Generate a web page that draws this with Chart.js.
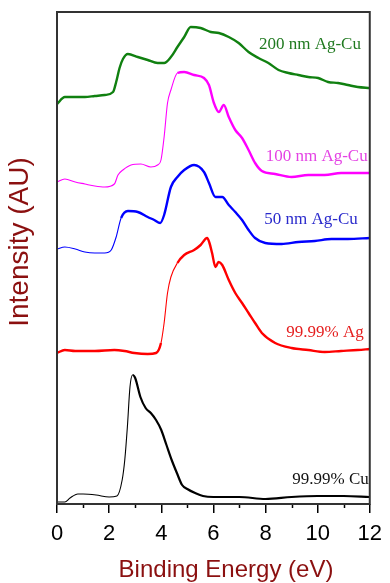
<!DOCTYPE html>
<html>
<head>
<meta charset="utf-8">
<script src="https://cdn.jsdelivr.net/npm/chart.js@4"></script>
<style>
  html, body { margin: 0; padding: 0; background: #fff; }
  #wrap { width: 390px; height: 583px; }
</style>
</head>
<body>
<div id="wrap"><canvas id="vbChart" width="390" height="583"></canvas></div>
<script>
// valence band spectra, intensities (arbitrary units, stacked)
const xTicks = [0, 2, 4, 6, 8, 10, 12];

const cuE = [0, 0.3, 0.5, 0.8, 1.0, 1.5, 2.0, 2.3, 2.5, 2.6, 2.7, 2.8, 2.9, 3.0, 3.2, 3.4, 3.6, 3.8, 4.0, 4.2, 4.4, 4.6, 4.8, 5.0, 5.3, 5.6, 6.0, 7, 8, 9, 10, 11, 12];
const cuI = [2, 2, 6, 10, 10, 9, 7, 8, 24, 44, 77, 117, 129, 126, 107, 96, 91, 84, 74, 59, 44, 31, 19, 15, 11, 8, 7, 7, 5, 7, 8, 8, 7];

const agE = [0, 0.3, 0.7, 1.45, 2.2, 2.59, 2.97, 3.48, 3.8, 3.99, 4.11, 4.24, 4.37, 4.62, 4.88, 5.26, 5.51, 5.76, 5.85, 5.95, 6.08, 6.2, 6.34, 6.59, 6.84, 7.1, 7.35, 7.6, 7.86, 8.37, 9.0, 9.64, 10.27, 10.9, 11.54, 12];
const agI = [151, 154, 153, 153, 154, 153, 151, 150, 151, 161, 181, 211, 227, 241, 249, 254, 259, 266, 261, 251, 237, 242, 239, 224, 211, 201, 191, 181, 171, 161, 156, 154, 152, 153, 154, 155];

const nm50E = [0, 0.3, 0.7, 1.07, 1.45, 1.83, 2.08, 2.27, 2.46, 2.72, 3.1, 3.48, 3.73, 3.96, 4.11, 4.37, 4.62, 4.88, 5.26, 5.64, 5.83, 6.08, 6.34, 6.59, 6.84, 7.1, 7.35, 7.6, 7.99, 8.62, 9.26, 9.89, 10.53, 11.16, 12];
const nm50I = [255, 257, 255, 252, 251, 251, 254, 267, 286, 293, 292, 287, 284, 281, 289, 317, 327, 334, 339, 332, 321, 307, 307, 299, 292, 284, 274, 266, 261, 260, 262, 263, 265, 265, 266];

const nm100E = [0, 0.3, 0.7, 1.07, 1.45, 1.83, 2.2, 2.34, 2.53, 2.84, 3.22, 3.6, 3.86, 3.99, 4.11, 4.24, 4.37, 4.62, 4.88, 5.26, 5.64, 5.83, 6.02, 6.21, 6.4, 6.59, 6.84, 7.1, 7.35, 7.6, 7.86, 8.37, 9.0, 9.64, 10.27, 10.9, 11.54, 12];
const nm100I = [322, 325, 322, 320, 318, 317, 320, 329, 334, 339, 340, 337, 339, 344, 367, 401, 414, 431, 432, 429, 426, 419, 401, 392, 399, 387, 374, 366, 354, 341, 333, 330, 327, 329, 329, 331, 331, 331];

const nm200E = [0, 0.3, 0.7, 1.07, 1.45, 1.83, 2.15, 2.27, 2.4, 2.53, 2.72, 3.1, 3.48, 3.86, 4.11, 4.37, 4.62, 4.88, 5.13, 5.51, 5.9, 6.21, 6.59, 6.97, 7.35, 7.73, 8.11, 8.5, 8.88, 9.26, 9.64, 10.02, 10.4, 10.78, 11.16, 11.54, 12];
const nm200I = [400, 407, 407, 407, 408, 409, 412, 422, 436, 445, 450, 447, 444, 441, 441, 447, 457, 467, 477, 476, 472, 471, 467, 461, 452, 446, 441, 434, 431, 429, 427, 426, 422, 421, 419, 417, 416];

const seriesNames = ['99.99% Cu', '99.99% Ag', '50 nm Ag-Cu', '100 nm Ag-Cu', '200 nm Ag-Cu'];

const titleRed = '#8b1010';

function pts(es, is) {
    return es.map((e, i) => ({ x: e, y: is[i] }));
}

// the measured traces are noisy: draw the noisy stretches with a wider pen
function fuzz(from, to, thick) {
    return {
        borderWidth: (c) => {
            const e = c.p0.parsed.x;
            return (e >= from && e < to) ? 1.1 : thick;
        }
    };
}

// where each curve's name sits: right edge (eV) and middle (intensity)
const tagSpots = [
    { e: 11.96, i: 24, color: '#111111' },
    { e: 11.77, i: 171, color: '#e52020' },
    { e: 11.54, i: 284, color: '#2a2acc' },
    { e: 11.92, i: 347, color: '#e443e4' },
    { e: 11.66, i: 459, color: '#207a20' }
];

const decor = {
    id: 'decor',
    afterDraw(chart) {
        const { ctx, chartArea: a, scales } = chart;
        const sx = scales.x, sy = scales.y;
        ctx.save();

        // minor ticks on odd values
        ctx.strokeStyle = '#000';
        ctx.lineWidth = 1.5;
        for (let v = 1; v < 12; v += 2) {
            const px = Math.round(sx.getPixelForValue(v)) + 0.5;
            ctx.beginPath();
            ctx.moveTo(px, a.bottom);
            ctx.lineTo(px, a.bottom + 4);
            ctx.stroke();
        }

        // frame
        ctx.strokeStyle = '#333';
        ctx.lineWidth = 2;
        ctx.strokeRect(a.left, a.top, a.right - a.left, a.bottom - a.top);

        // curve names
        ctx.font = '17px "Liberation Serif", serif';
        ctx.textAlign = 'right';
        ctx.textBaseline = 'middle';
        tagSpots.forEach((t, k) => {
            ctx.fillStyle = t.color;
            ctx.fillText(seriesNames[k], sx.getPixelForValue(t.e), sy.getPixelForValue(t.i));
        });

        // axis titles
        ctx.fillStyle = titleRed;
        ctx.textAlign = 'center';
        ctx.font = '24px "Liberation Sans", Arial, sans-serif';
        ctx.fillText('Binding Energy (eV)', 226, 570);
        ctx.translate(20, 242);
        ctx.rotate(-Math.PI / 2);
        ctx.font = '28px "Liberation Sans", Arial, sans-serif';
        ctx.fillText('Intensity (AU)', 0, 0);
        ctx.restore();
    }
};

const ctx = document.getElementById('vbChart').getContext('2d');
new Chart(ctx, {
    type: 'line',
    data: {
        datasets: [
            { label: seriesNames[0], data: pts(cuE, cuI), borderColor: '#000000', segment: fuzz(0, 2.9, 2.2) },
            { label: seriesNames[1], data: pts(agE, agI), borderColor: '#ff0000', segment: fuzz(3.9, 4.5, 2.4) },
            { label: seriesNames[2], data: pts(nm50E, nm50I), borderColor: '#0000ff', segment: fuzz(0, 2.3, 2.4) },
            { label: seriesNames[3], data: pts(nm100E, nm100I), borderColor: '#ff00ff', segment: fuzz(0, 4.5, 2.4) },
            { label: seriesNames[4], data: pts(nm200E, nm200I), borderColor: '#108010', segment: fuzz(-1, 0, 2.4) }
        ]
    },
    options: {
        responsive: false,
        animation: false,
        layout: { padding: { top: 12, right: 18, left: 0, bottom: 0 } },
        elements: {
            point: { radius: 0 },
            line: { borderWidth: 1.4, cubicInterpolationMode: 'monotone' }
        },
        plugins: {
            legend: { display: false },
            tooltip: { enabled: false }
        },
        scales: {
            x: {
                type: 'linear',
                min: 0,
                max: 12,
                afterBuildTicks: (s) => { s.ticks = xTicks.map(v => ({ value: v })); },
                afterFit: (s) => { s.height = 79; },
                ticks: {
                    color: '#000',
                    padding: 8,
                    font: { size: 22, family: '"Liberation Sans", Arial, sans-serif' }
                },
                grid: { drawOnChartArea: false, tickLength: 9, color: '#000', lineWidth: 1.5 },
                border: { display: false }
            },
            y: {
                min: 0,
                max: 492,
                afterFit: (s) => { s.width = 57; },
                ticks: { display: false },
                grid: { display: false },
                border: { display: false }
            }
        }
    },
    plugins: [decor]
});
</script>
</body>
</html>
